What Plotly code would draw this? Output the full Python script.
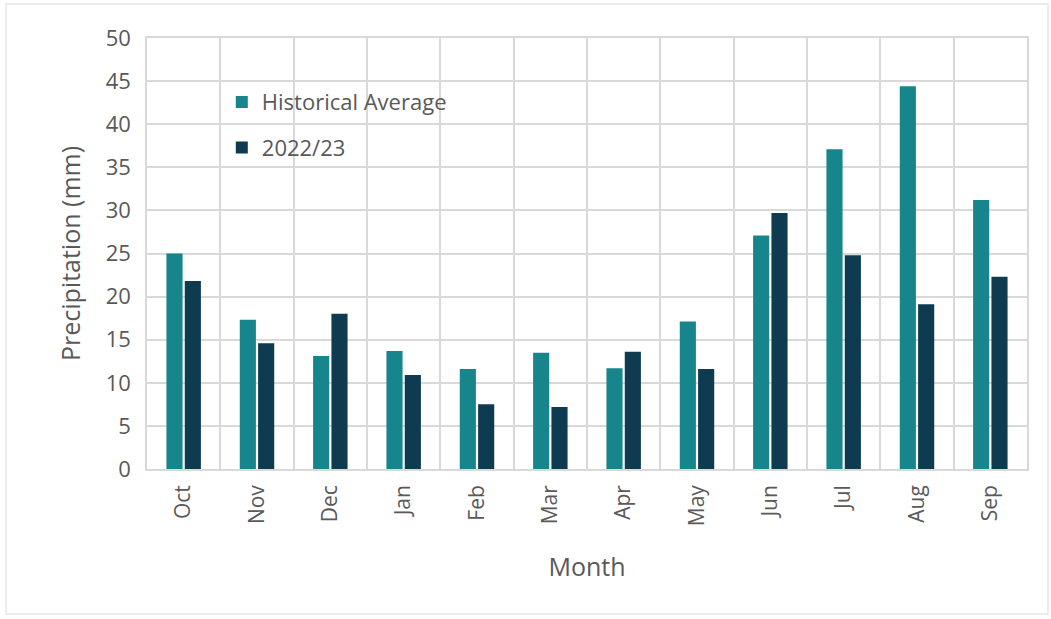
import plotly.graph_objects as go

months = ["Oct", "Nov", "Dec", "Jan", "Feb", "Mar", "Apr", "May", "Jun", "Jul", "Aug", "Sep"]
historical_avg = [25.0, 17.3, 13.1, 13.7, 11.6, 13.5, 11.7, 17.1, 27.1, 37.1, 44.4, 31.2]
season_2022_23 = [21.8, 14.6, 18.0, 10.9, 7.5, 7.2, 13.6, 11.6, 29.7, 24.8, 19.1, 22.3]

TEAL = "#16858c"
NAVY = "#0e3b50"
GRID = "#d9d9d9"
TEXT = "#595959"
FONT = "Open Sans, Noto Sans, sans-serif"

fig = go.Figure()
fig.add_trace(go.Bar(x=months, y=historical_avg, name="Historical Average",
                     marker=dict(color=TEAL, line=dict(width=0)), legendgroup="a"))
fig.add_trace(go.Bar(x=months, y=season_2022_23, name="2022/23",
                     marker=dict(color=NAVY, line=dict(width=0)), legendgroup="b"))

L, R, T, B = 147, 24, 38, 150
W, H = 1051, 619
pw, ph = W - L - R, H - T - B

fig.update_layout(
    width=W, height=H,
    margin=dict(l=L, r=R, t=T, b=B),
    paper_bgcolor="white", plot_bgcolor="white",
    barmode="group", bargap=0.5, bargroupgap=0.12,
    font=dict(family=FONT, color=TEXT),
    showlegend=True,
    legend=dict(x=0.085, y=0.90, xanchor="left", yanchor="top",
                bgcolor="rgba(0,0,0,0)", font=dict(size=22, color=TEXT),
                traceorder="grouped", tracegroupgap=14, itemwidth=30),
    xaxis=dict(
        type="category", tickson="boundaries", tickangle=-90,
        showgrid=True, gridcolor=GRID, gridwidth=1.5,
        showline=True, linecolor=GRID, linewidth=1.5, mirror=True,
        ticks="", tickfont=dict(size=21, color=TEXT),
        ticklabelstandoff=6,
        title=dict(text="Month", font=dict(size=25, color=TEXT), standoff=33),
    ),
    yaxis=dict(
        range=[0, 50], dtick=5, tick0=0,
        showgrid=True, gridcolor=GRID, gridwidth=1.5,
        showline=True, linecolor=GRID, linewidth=1.5, mirror=True,
        zeroline=False, ticks="", tickfont=dict(size=22, color=TEXT),
        ticklabelstandoff=10,
        title=dict(text="Precipitation (mm)", font=dict(size=25, color=TEXT), standoff=18),
    ),
)

# faint frame around the whole chart
fig.add_shape(type="rect", xref="paper", yref="paper",
              x0=(6 - L) / pw, x1=(1048 - L) / pw,
              y0=(H - B - 614) / ph, y1=(H - B - 4) / ph,
              line=dict(color="#ececec", width=2), layer="below")

fig.write_html("out.html")
